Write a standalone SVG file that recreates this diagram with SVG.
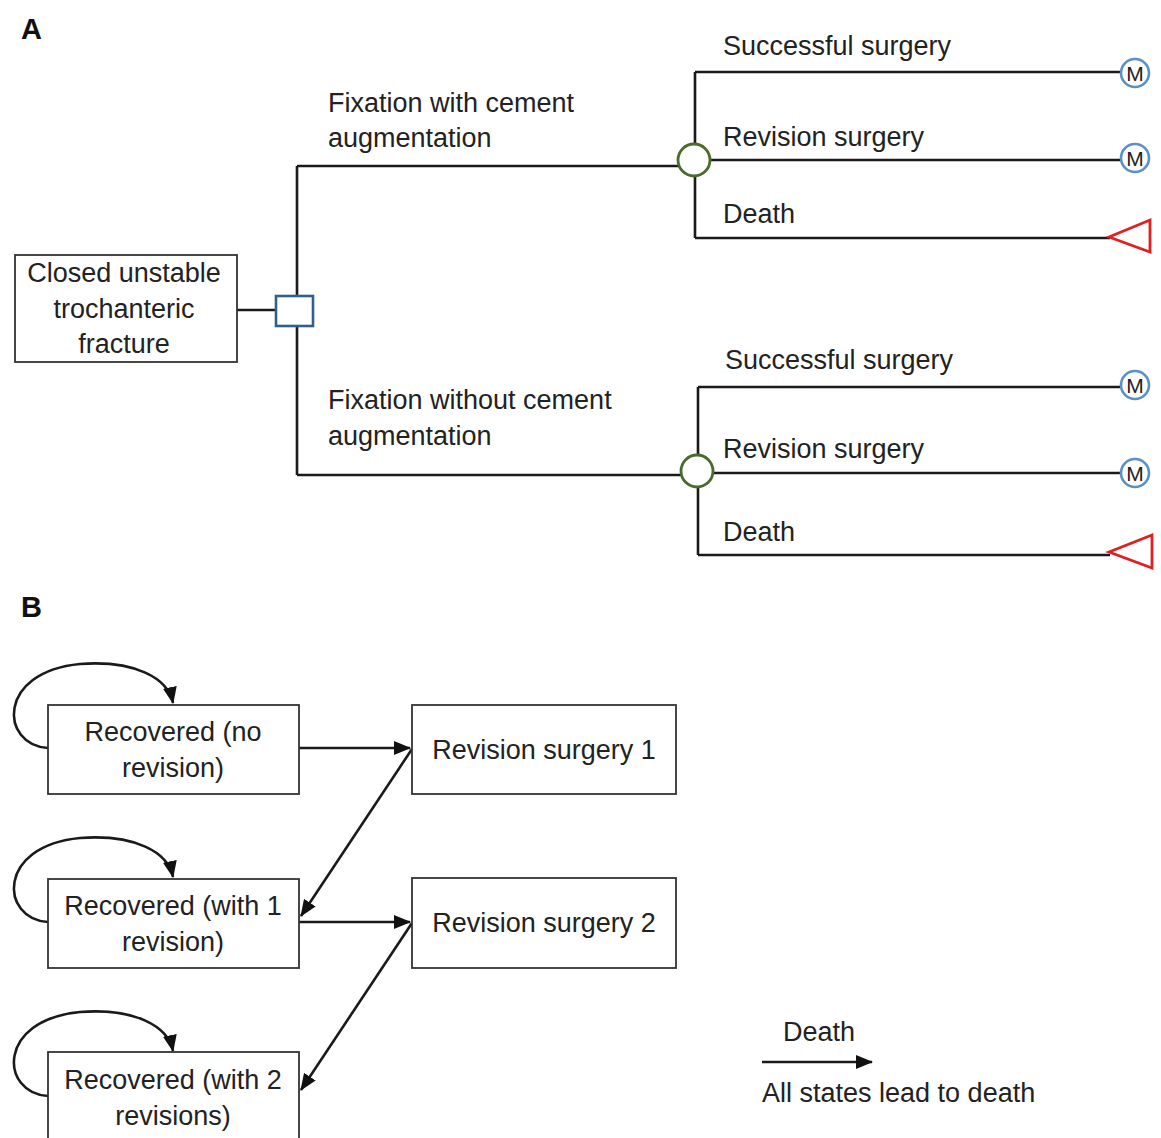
<svg xmlns="http://www.w3.org/2000/svg" width="1161" height="1138" viewBox="0 0 1161 1138">
<style>
text{font-family:"Liberation Sans",Arial,sans-serif;font-size:27px;fill:#222}
.ln{stroke:#1a1a1a;stroke-width:2.6;fill:none}
.box{fill:#fff;stroke:#333;stroke-width:1.8}
.mc{fill:#fff;stroke:#5b8fc8;stroke-width:2.6}
.mt{font-size:21px;text-anchor:middle}
.tri{fill:#fff;stroke:#e02020;stroke-width:2.8}
.chance{fill:#fff;stroke:#4a6b2e;stroke-width:2.8}
.c{text-anchor:middle}
.lbl{font-weight:bold;font-size:29px;fill:#111}
</style>
<defs>
<marker id="ah" markerUnits="userSpaceOnUse" markerWidth="17" markerHeight="14" refX="16" refY="7" orient="auto">
<path d="M0,0 L17,7 L0,14 z" fill="#111"/>
</marker>
</defs>
<text class="lbl" x="21" y="39">A</text>
<text class="lbl" x="21" y="617">B</text>

<g id="connectors">
<path class="ln" d="M237,310 H276"/>
<path class="ln" d="M297,166 V295 M297,326 V475"/>
<path class="ln" d="M297,166 H680"/>
<path class="ln" d="M297,475 H681"/>
<path class="ln" d="M695,72 V144 M695,176 V238"/>
<path class="ln" d="M695,72 H1121 M710,160 H1121 M695,238 H1110"/>
<path class="ln" d="M698,387 V455 M698,487 V555"/>
<path class="ln" d="M698,387 H1121 M713,473 H1121 M698,555 H1110"/>
<path class="ln" d="M299,748 H410" marker-end="url(#ah)"/>
<path class="ln" d="M412,749 L301,916" marker-end="url(#ah)"/>
<path class="ln" d="M299,922 H410" marker-end="url(#ah)"/>
<path class="ln" d="M412,923 L301,1090" marker-end="url(#ah)"/>
<path class="ln" d="M48,748 C0,745 -4,672 80,664 C135,660 168,678 173,703" marker-end="url(#ah)"/>
<path class="ln" d="M48,922 C0,919 -4,846 80,838 C135,834 168,852 173,877" marker-end="url(#ah)"/>
<path class="ln" d="M48,1096 C0,1093 -4,1020 80,1012 C135,1008 168,1026 173,1051" marker-end="url(#ah)"/>
<path class="ln" d="M762,1062 H872" marker-end="url(#ah)"/>
</g>

<g id="root">
<rect class="box" x="15" y="255" width="222" height="107"/>
<text class="c" x="124" y="282">Closed unstable</text>
<text class="c" x="124" y="318">trochanteric</text>
<text class="c" x="124" y="353">fracture</text>
</g>
<g id="decision">
<rect x="276" y="296" width="37" height="30" fill="#fff" stroke="#2f5f8f" stroke-width="2.6"/>
</g>
<g id="branch-labels">
<text x="328" y="112">Fixation with cement</text>
<text x="328" y="147">augmentation</text>
<text x="328" y="409">Fixation without cement</text>
<text x="328" y="445">augmentation</text>
</g>
<g id="chance1">
<circle class="chance" cx="694" cy="160" r="16"/>
</g>
<g id="chance2">
<circle class="chance" cx="697" cy="471" r="16"/>
</g>
<g id="outcome-labels">
<text x="723" y="55">Successful surgery</text>
<text x="723" y="146">Revision surgery</text>
<text x="723" y="223">Death</text>
<text x="725" y="369">Successful surgery</text>
<text x="723" y="458">Revision surgery</text>
<text x="723" y="541">Death</text>
</g>
<g id="m1"><circle class="mc" cx="1135" cy="73" r="14"/><text class="mt" x="1135" y="81">M</text></g>
<g id="m2"><circle class="mc" cx="1135" cy="158" r="14"/><text class="mt" x="1135" y="166">M</text></g>
<g id="t1"><path class="tri" d="M1109,237 L1150,220 L1150,252 z"/></g>
<g id="m3"><circle class="mc" cx="1135" cy="385" r="14"/><text class="mt" x="1135" y="393">M</text></g>
<g id="m4"><circle class="mc" cx="1135" cy="473" r="14"/><text class="mt" x="1135" y="481">M</text></g>
<g id="t2"><path class="tri" d="M1109,552 L1152,535 L1152,568 z"/></g>

<g id="rec0">
<rect class="box" x="48" y="705" width="251" height="89"/>
<text class="c" x="173" y="741">Recovered (no</text>
<text class="c" x="173" y="777">revision)</text>
</g>
<g id="rec1">
<rect class="box" x="48" y="879" width="251" height="89"/>
<text class="c" x="173" y="915">Recovered (with 1</text>
<text class="c" x="173" y="951">revision)</text>
</g>
<g id="rec2">
<rect class="box" x="48" y="1052" width="251" height="100"/>
<text class="c" x="173" y="1089">Recovered (with 2</text>
<text class="c" x="173" y="1125">revisions)</text>
</g>
<g id="rev1">
<rect class="box" x="412" y="705" width="264" height="89"/>
<text class="c" x="544" y="759">Revision surgery 1</text>
</g>
<g id="rev2">
<rect class="box" x="412" y="878" width="264" height="90"/>
<text class="c" x="544" y="932">Revision surgery 2</text>
</g>
<g id="legend">
<text x="783" y="1041">Death</text>
<text x="762" y="1102">All states lead to death</text>
</g>
</svg>
